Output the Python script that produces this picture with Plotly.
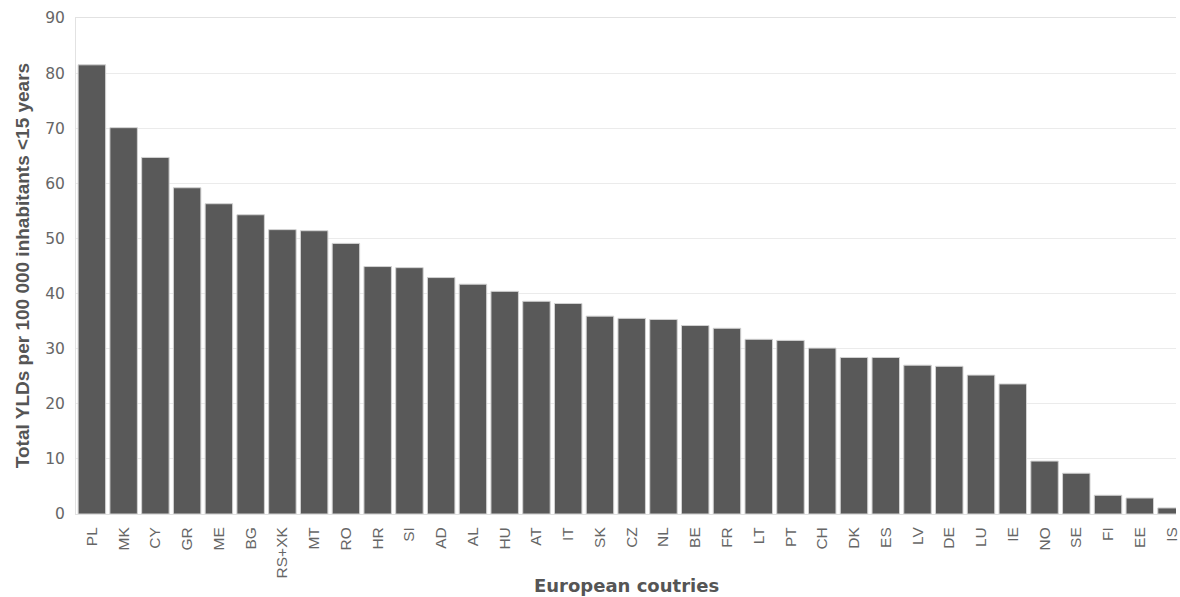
import plotly.graph_objects as go

countries = ["PL", "MK", "CY", "GR", "ME", "BG", "RS+XK", "MT", "RO", "HR", "SI", "AD",
             "AL", "HU", "AT", "IT", "SK", "CZ", "NL", "BE", "FR", "LT", "PT", "CH",
             "DK", "ES", "LV", "DE", "LU", "IE", "NO", "SE", "FI", "EE", "IS"]
ylds = [81.5, 70.1, 64.7, 59.2, 56.3, 54.3, 51.6, 51.4, 49.1, 44.9, 44.7, 42.9,
        41.7, 40.4, 38.6, 38.2, 35.9, 35.5, 35.3, 34.2, 33.7, 31.7, 31.5, 30.1,
        28.4, 28.4, 27.0, 26.8, 25.2, 23.6, 9.6, 7.4, 3.4, 2.9, 1.1]
y_ticks = [0, 10, 20, 30, 40, 50, 60, 70, 80, 90]

fig = go.Figure()
fig.add_trace(go.Bar(
    x=countries, y=ylds,
    marker=dict(color="#595959", line=dict(color="#d2d2d2", width=1)),
    hoverinfo="x+y",
))

fig.update_layout(
    width=1180, height=597,
    margin=dict(l=76, r=0, t=18, b=83),
    paper_bgcolor="white", plot_bgcolor="white",
    bargap=0.135,
    showlegend=False,
    xaxis=dict(
        type="category", range=[-0.5, 34.14],
        tickangle=-90, ticks="", ticklabelstandoff=6,
        tickfont=dict(family="Liberation Sans, Arial", size=15.5, color="#666666"),
        showgrid=False, zeroline=False,
        showline=True, linecolor="#e2e2e2", linewidth=1, mirror=True,
    ),
    yaxis=dict(
        range=[0, 90], tickvals=y_ticks, ticks="", ticklabelstandoff=7,
        tickfont=dict(family="DejaVu Sans, Liberation Sans", size=15.5, color="#666666"),
        showgrid=True, gridcolor="#ebebeb", gridwidth=1,
        zeroline=False,
        showline=True, linecolor="#e2e2e2", linewidth=1, mirror=False,
    ),
    annotations=[
        dict(text="<b>European coutries</b>", xref="paper", yref="paper",
             x=0.5, y=(514 - 585) / 496, xanchor="center", yanchor="middle",
             showarrow=False,
             font=dict(family="DejaVu Sans, Liberation Sans", size=18, color="#555555")),
        dict(text="<b>Total YLDs per 100 000 inhabitants <15 years</b>",
             xref="paper", yref="paper",
             x=(22 - 76) / 1104, y=0.5, xanchor="center", yanchor="middle",
             textangle=-90, showarrow=False,
             font=dict(family="Liberation Sans, Arial", size=19, color="#555555")),
    ],
)

fig.write_html(
    "out.html",
    config={"displayModeBar": False},
    post_script="document.body.style.margin='0';document.body.style.overflow='hidden';",
)
